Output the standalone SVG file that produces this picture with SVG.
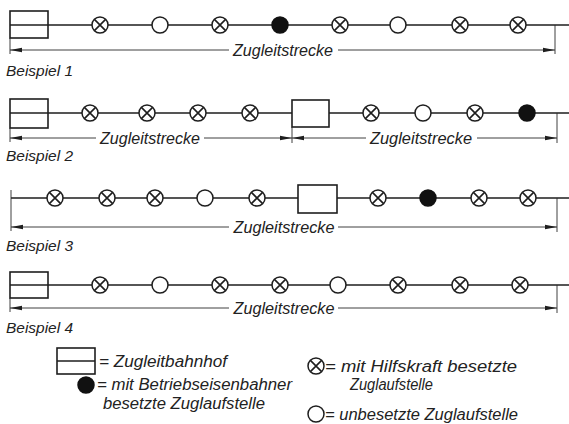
<svg xmlns="http://www.w3.org/2000/svg" width="569" height="424" viewBox="0 0 569 424">
<style>
.trk{stroke:#1e1e1e;stroke-width:1.6;fill:none}
.dim{stroke:#2a2a2a;stroke-width:0.9;fill:none}
.box{stroke:#1e1e1e;stroke-width:1.6;fill:#fff}
.nd{stroke:#1e1e1e;stroke-width:1.5;fill:#fff}
.fl{fill:#111;stroke:#111;stroke-width:1.5}
.t{font-family:"Liberation Sans",Arial,sans-serif;font-style:italic;fill:#222}
.lbl{font-size:17px}
.bsp{font-size:15px}
.lg{font-size:16px}
</style>
<defs>
<marker id="ah" viewBox="0 0 12 6" refX="12" refY="3" markerWidth="12" markerHeight="6" markerUnits="userSpaceOnUse" orient="auto-start-reverse">
<path d="M0,0.8 L12,3 L0,5.2 Z" fill="#1e1e1e"/>
</marker>
<g id="xs"><circle class="nd" r="8"/><path class="trk" stroke-width="1.4" d="M-5.6,-5.6 L5.6,5.6 M-5.6,5.6 L5.6,-5.6"/></g>
<g id="os"><circle class="nd" r="8"/></g>
<g id="fs"><circle class="fl" r="8"/></g>
</defs>
<rect width="569" height="424" fill="#fff"/>

<g id="connectors">
<!-- row 1 -->
<path class="trk" d="M48,25 H569"/>
<path class="dim" d="M10,38 V54 M555,25 V54"/>
<path class="dim" marker-start="url(#ah)" d="M10,50 H229"/>
<path class="dim" marker-end="url(#ah)" d="M338,50 H555"/>
<!-- row 2 -->
<path class="trk" d="M48,113 H292 M329,113 H569"/>
<path class="dim" d="M10,128 V142 M292,127 V143 M557,113 V143"/>
<path class="dim" marker-start="url(#ah)" d="M10,138 H96"/>
<path class="dim" marker-end="url(#ah)" d="M204,138 H292"/>
<path class="dim" marker-start="url(#ah)" d="M292,138 H366"/>
<path class="dim" marker-end="url(#ah)" d="M477,138 H557"/>
<!-- row 3 -->
<path class="trk" d="M11,198 H298 M337,198 H569"/>
<path class="dim" d="M11,190 V231 M557,198 V232"/>
<path class="dim" marker-start="url(#ah)" d="M11,227 H229"/>
<path class="dim" marker-end="url(#ah)" d="M338,227 H557"/>
<!-- row 4 -->
<path class="trk" d="M48,285 H569"/>
<path class="dim" d="M10,298 V312 M557,285 V313"/>
<path class="dim" marker-start="url(#ah)" d="M10,308 H229"/>
<path class="dim" marker-end="url(#ah)" d="M338,308 H557"/>
</g>

<g id="row1">
<g id="r1-box"><rect class="box" x="10" y="11" width="38" height="27"/><path class="trk" d="M10,25 H48"/></g>
<use href="#xs" x="100" y="25"/><use href="#os" x="160" y="25"/><use href="#xs" x="220" y="25"/>
<use href="#fs" x="280" y="25"/><use href="#xs" x="340" y="25"/><use href="#os" x="398" y="25"/>
<use href="#xs" x="460" y="25"/><use href="#xs" x="518" y="25"/>
<text class="t lbl" x="283" y="56" text-anchor="middle" textLength="100" lengthAdjust="spacingAndGlyphs">Zugleitstrecke</text>
<text class="t bsp" x="6" y="76" textLength="67" lengthAdjust="spacingAndGlyphs">Beispiel 1</text>
</g>

<g id="row2">
<g id="r2-box1"><rect class="box" x="10" y="99" width="38" height="29"/><path class="trk" d="M10,113 H48"/></g>
<use href="#xs" x="90" y="113"/><use href="#xs" x="147" y="113"/><use href="#xs" x="198" y="113"/><use href="#xs" x="250" y="113"/>
<g id="r2-box2"><rect class="box" x="292" y="100" width="37" height="27"/></g>
<use href="#xs" x="371" y="113"/><use href="#os" x="423" y="113"/><use href="#xs" x="475" y="113"/><use href="#fs" x="527" y="113"/>
<text class="t lbl" x="150" y="144" text-anchor="middle" textLength="100" lengthAdjust="spacingAndGlyphs">Zugleitstrecke</text>
<text class="t lbl" x="421" y="144" text-anchor="middle" textLength="102" lengthAdjust="spacingAndGlyphs">Zugleitstrecke</text>
<text class="t bsp" x="6" y="161" textLength="67" lengthAdjust="spacingAndGlyphs">Beispiel 2</text>
</g>

<g id="row3">
<use href="#xs" x="55" y="198"/><use href="#xs" x="107" y="198"/><use href="#xs" x="155" y="198"/><use href="#os" x="205" y="198"/><use href="#xs" x="257" y="198"/>
<g id="r3-box"><rect class="box" x="298" y="185" width="39" height="28"/></g>
<use href="#xs" x="378" y="198"/><use href="#fs" x="428" y="198"/><use href="#xs" x="479" y="198"/><use href="#xs" x="528" y="198"/>
<text class="t lbl" x="284" y="233" text-anchor="middle" textLength="101" lengthAdjust="spacingAndGlyphs">Zugleitstrecke</text>
<text class="t bsp" x="6" y="251" textLength="67" lengthAdjust="spacingAndGlyphs">Beispiel 3</text>
</g>

<g id="row4">
<g id="r4-box"><rect class="box" x="10" y="272" width="38" height="26"/><path class="trk" d="M10,285 H48"/></g>
<use href="#xs" x="100" y="285"/><use href="#os" x="160" y="285"/><use href="#xs" x="220" y="285"/><use href="#xs" x="280" y="285"/>
<use href="#os" x="338" y="285"/><use href="#xs" x="398" y="285"/><use href="#xs" x="460" y="285"/><use href="#xs" x="520" y="285"/>
<text class="t lbl" x="284" y="314" text-anchor="middle" textLength="101" lengthAdjust="spacingAndGlyphs">Zugleitstrecke</text>
<text class="t bsp" x="6" y="333" textLength="67" lengthAdjust="spacingAndGlyphs">Beispiel 4</text>
</g>

<g id="legend">
<g id="lg-box"><rect class="box" x="57" y="348" width="38" height="26"/><path class="trk" d="M57,361 H95"/>
<text class="t lg" x="99" y="367" textLength="128" lengthAdjust="spacingAndGlyphs">= Zugleitbahnhof</text></g>
<g id="lg-fill"><use href="#fs" x="86" y="385"/>
<text class="t lg" x="97" y="390" textLength="195" lengthAdjust="spacingAndGlyphs">= mit Betriebseisenbahner</text>
<text class="t lg" x="103" y="409" textLength="162" lengthAdjust="spacingAndGlyphs">besetzte Zuglaufstelle</text></g>
<g id="lg-x"><use href="#xs" x="316" y="366"/>
<text class="t lg" x="325" y="372" textLength="192" lengthAdjust="spacingAndGlyphs">= mit Hilfskraft besetzte</text>
<text class="t lg" x="350" y="390" textLength="83" lengthAdjust="spacingAndGlyphs">Zuglaufstelle</text></g>
<g id="lg-o"><use href="#os" x="316" y="414"/>
<text class="t lg" x="325" y="420" textLength="193" lengthAdjust="spacingAndGlyphs">= unbesetzte Zuglaufstelle</text></g>
</g>
</svg>
